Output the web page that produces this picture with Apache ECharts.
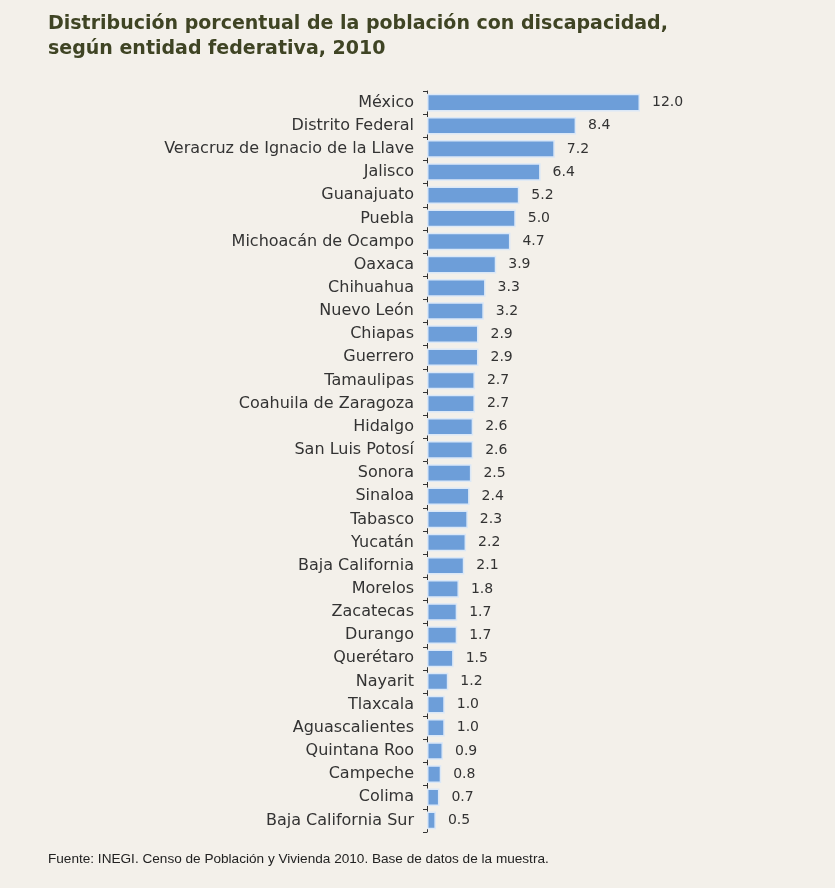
<!DOCTYPE html>
<html><head><meta charset="utf-8">
<script src="https://cdn.jsdelivr.net/npm/echarts@6/dist/echarts.min.js"></script>
<style>html,body{margin:0;padding:0;background:#f3f0ea;}#c{width:835px;height:888px;}</style>
</head><body><div id="c"></div>
<script>
const categories = ["México","Distrito Federal","Veracruz de Ignacio de la Llave","Jalisco","Guanajuato","Puebla","Michoacán de Ocampo","Oaxaca","Chihuahua","Nuevo León","Chiapas","Guerrero","Tamaulipas","Coahuila de Zaragoza","Hidalgo","San Luis Potosí","Sonora","Sinaloa","Tabasco","Yucatán","Baja California","Morelos","Zacatecas","Durango","Querétaro","Nayarit","Tlaxcala","Aguascalientes","Quintana Roo","Campeche","Colima","Baja California Sur"];
const values = [12.0,8.4,7.2,6.4,5.2,5.0,4.7,3.9,3.3,3.2,2.9,2.9,2.7,2.7,2.6,2.6,2.5,2.4,2.3,2.2,2.1,1.8,1.7,1.7,1.5,1.2,1.0,1.0,0.9,0.8,0.7,0.5];
const titleLines = ["Distribución porcentual de la población con discapacidad,","según entidad federativa, 2010"];
const sourceText = "Fuente: INEGI. Censo de Población y Vivienda 2010. Base de datos de la muestra.";

const chart = echarts.init(document.getElementById('c'));
chart.setOption({
  backgroundColor: '#f3f0ea',
  animation: false,
  title: [{
    text: titleLines.join('\n'),
    left: 43, top: 7,
    textStyle: {fontFamily: 'DejaVu Sans', fontWeight: 'bold', fontSize: 19, color: '#3f4424', lineHeight: 25}
  },{
    text: sourceText,
    left: 43, top: 847,
    textStyle: {fontFamily: 'Liberation Sans, Arial', fontWeight: 'normal', fontSize: 13.6, color: '#222'}
  }],
  grid: {left: 427, right: 195, top: 91, bottom: 56, containLabel: false},
  xAxis: {type: 'value', min: 0, max: 12, show: false},
  yAxis: {
    type: 'category', data: categories, inverse: true,
    axisLine: {show: true, lineStyle: {color: '#333', width: 1}},
    axisTick: {show: true, length: 4, lineStyle: {color: '#333'}},
    axisLabel: {margin: 13, fontFamily: 'DejaVu Sans', fontSize: 16, color: '#333'}
  },
  series: [{
    type: 'bar', data: values, barCategoryGap: '24%',
    itemStyle: {color: '#6d9ed9', borderColor: '#dbe8f7', borderWidth: 1.5},
    label: {show: true, position: 'right', distance: 12, formatter: p => p.value.toFixed(1),
      fontFamily: 'DejaVu Sans', fontSize: 14, color: '#333'}
  }]
});
</script></body></html>
